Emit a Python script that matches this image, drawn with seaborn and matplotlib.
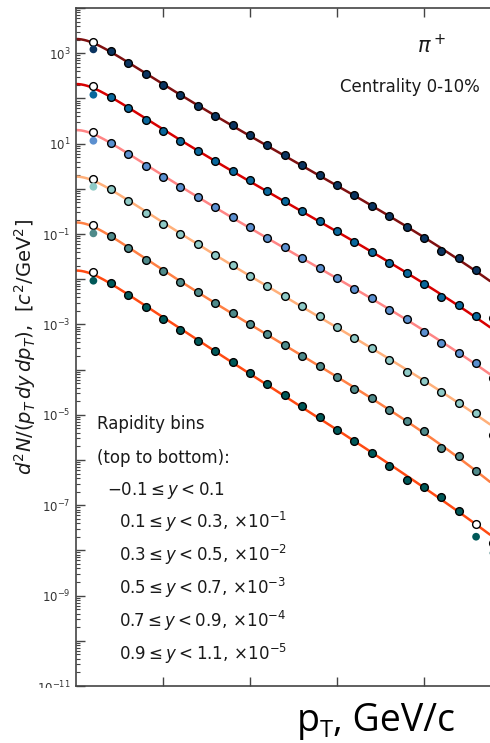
import numpy as np
import pandas as pd
import matplotlib
matplotlib.use("Agg")
import matplotlib.pyplot as plt
import seaborn as sns
from matplotlib.ticker import LogLocator, FixedLocator, NullFormatter, FuncFormatter
from matplotlib.patches import Rectangle

# ---------------- data (unscaled spectra, c^2/GeV^2) ----------------
pt = [0.2, 0.3, 0.4, 0.5, 0.6, 0.7, 0.8, 0.9, 1.0, 1.1, 1.2,
      1.3, 1.4, 1.5, 1.6, 1.7, 1.8, 1.9, 2.0, 2.1, 2.2, 2.3]

y_bin1 = [1100, 617, 341, 195, 117, 67.9, 41.4, 25.4, 15.3, 9.31, 5.60,
          3.31, 2.02, 1.21, 0.718, 0.410, 0.254, 0.143, 0.0804, 0.0428, 0.0290, 0.0160]
y_bin2 = [1091, 604, 338, 190, 116, 69.7, 41.9, 25.1, 15.4, 8.93, 5.28,
          3.23, 1.94, 1.18, 0.676, 0.406, 0.225, 0.139, 0.0771, 0.0410, 0.0269, 0.0153]
y_bin3 = [1047, 579, 319, 185, 110, 65.9, 39.0, 23.4, 14.1, 8.17, 5.08,
          2.99, 1.79, 1.05, 0.607, 0.390, 0.208, 0.130, 0.0679, 0.0382, 0.0237, 0.0142]
y_bin4 = [991, 537, 296, 169, 100, 59.2, 34.3, 20.6, 11.9, 7.18, 4.32,
          2.59, 1.53, 0.889, 0.500, 0.296, 0.163, 0.0899, 0.0568, 0.0315, 0.0185, 0.0108]
y_bin5 = [904, 483, 266, 154, 88.1, 52.1, 30.2, 17.6, 10.4, 6.22, 3.50,
          2.03, 1.20, 0.697, 0.372, 0.230, 0.130, 0.0721, 0.0428, 0.0184, 0.0121, 0.00579]
y_bin6 = [811, 441, 239, 132, 75.2, 43.6, 25.4, 14.7, 8.41, 4.88, 2.74,
          1.57, 0.908, 0.461, 0.267, 0.141, 0.0736, 0.0361, 0.0253, 0.0152, 0.00733, np.nan]

scale_exp = [0, -1, -2, -3, -4, -5]

# extra low-pT points (pT = 0.1 GeV/c): open circles and plain filled circles
pt_low = 0.1
open_low = [1795, 1879, 1778, 1648, 1581, 1422]
fill_low = [1219, 1208, 1159, 1112, 1035, 927]

# extra high-pT points: (bin index, pT, value)
open_high_bin = [1, 2, 3, 5, 5]
open_high_pt = [2.4, 2.4, 2.4, 2.3, 2.4]
open_high_val = [0.0139, 0.00652, 0.00357, 0.00378, 0.00146]
fill_high_bin = [5, 5]
fill_high_pt = [2.3, 2.4]
fill_high_val = [0.00201, 0.000875]

marker_colors = ["#0b3460", "#09679c", "#5b8fcf", "#8fcac6", "#4f8a8a", "#005858"]
line_colors = ["#7f1010", "#d80000", "#ff8585", "#ffb07a", "#ff8044", "#ff4a12"]

legend_lines = ["Rapidity bins", "(top to bottom):",
                r"$-0.1\leq y<0.1$",
                r"$0.1\leq y<0.3,\,{\times}10^{-1}$",
                r"$0.3\leq y<0.5,\,{\times}10^{-2}$",
                r"$0.5\leq y<0.7,\,{\times}10^{-3}$",
                r"$0.7\leq y<0.9,\,{\times}10^{-4}$",
                r"$0.9\leq y<1.1,\,{\times}10^{-5}$"]

series = [y_bin1, y_bin2, y_bin3, y_bin4, y_bin5, y_bin6]
M_PI = 0.1396  # pion mass, GeV/c^2 (fit variable m_T - m)

# ---------------- figure ----------------
sns.set_style("ticks")
plt.rcParams["font.family"] = ["DejaVu Sans"]
W, H = 490, 743
fig = plt.figure(figsize=(W / 100, H / 100), dpi=100)
ax = fig.add_axes([76 / W, 1 - 686 / H, (490 - 76) / W, (686 - 7.5) / H])

grid = np.linspace(0.0, 2.38, 300)


def fit_curve(x, v, xg):
    x = np.asarray(x, float)
    v = np.asarray(v, float)
    ok = np.isfinite(v)
    u = np.sqrt(x[ok] ** 2 + M_PI ** 2) - M_PI
    c = np.polyfit(u, np.log10(v[ok]), 3)
    ug = np.sqrt(xg ** 2 + M_PI ** 2) - M_PI
    return 10 ** np.polyval(c, ug)


MS = 31
for i, vals in enumerate(series):
    f = 10.0 ** scale_exp[i]
    v = np.array(vals, float) * f
    # points used for the fit line: main points + low-pT open circle (+ high open for last bin)
    fx = [pt_low] + list(pt)
    fv = [open_low[i] * f] + list(v)
    for b, p, val in zip(open_high_bin, open_high_pt, open_high_val):
        if b == i and p <= 2.3 and not np.isfinite(v[pt.index(p)]):
            fv[fx.index(p)] = val * f
    curve = fit_curve(fx, fv, grid)
    sns.lineplot(x=grid, y=curve, color=line_colors[i], lw=1.8, ax=ax,
                 zorder=2, estimator=None, sort=False)

    # open circles
    ox = [pt_low] + [p for b, p in zip(open_high_bin, open_high_pt) if b == i]
    oy = [open_low[i] * f] + [val * f for b, val in zip(open_high_bin, open_high_val) if b == i]
    sns.scatterplot(x=ox, y=oy, s=MS, facecolor="white", edgecolor="black",
                    linewidth=1.0, ax=ax, zorder=3)
    # plain filled circles
    px_ = [pt_low] + [p for b, p in zip(fill_high_bin, fill_high_pt) if b == i]
    py_ = [fill_low[i] * f] + [val * f for b, val in zip(fill_high_bin, fill_high_val) if b == i]
    sns.scatterplot(x=px_, y=py_, s=MS, color=marker_colors[i], edgecolor="none",
                    linewidth=0, ax=ax, zorder=4)
    # main data points
    df = pd.DataFrame({"pt": pt, "val": v}).dropna()
    sns.scatterplot(data=df, x="pt", y="val", s=MS, color=marker_colors[i],
                    edgecolor="black", linewidth=1.0, ax=ax, zorder=5)

ax.set_yscale("log")
ax.set_xlim(0, 2.38)
ax.set_ylim(1e-11, 1.03e4)

ax.xaxis.set_major_locator(FixedLocator([0.5, 1.0, 1.5, 2.0]))
ax.xaxis.set_major_formatter(NullFormatter())
ax.yaxis.set_major_locator(LogLocator(base=10, numticks=40))
ax.yaxis.set_minor_locator(LogLocator(base=10, subs=np.arange(2, 10), numticks=200))
ax.yaxis.set_minor_formatter(NullFormatter())


def fmt(v, pos):
    e = int(round(np.log10(v)))
    return r"$10^{%d}$" % e if e % 2 != 0 else ""


ax.yaxis.set_major_formatter(FuncFormatter(fmt))

spc = "#444444"
for s in ["left", "top", "bottom"]:
    ax.spines[s].set_color(spc)
    ax.spines[s].set_linewidth(1.2)
ax.spines["right"].set_visible(False)
ax.tick_params(axis="both", which="major", direction="in", length=6.5, width=1.0,
               color=spc, labelcolor="#333333", labelsize=8.5, pad=4,
               top=True, right=False)
ax.tick_params(axis="both", which="minor", direction="in", length=3.2, width=0.8,
               color=spc, top=False, right=False)
ax.set_xlabel("")
ax.set_ylabel(r"$d^2N/(p_T\,dy\,dp_T)$,  $[c^2/\mathrm{GeV}^2]$", fontsize=14,
              color="#1a1a1a")
ax.yaxis.set_label_coords(-0.092, 0.5)


def fx_(px):
    return px / W


def fy_(py):
    return 1 - py / H


tcol = "#1a1a1a"
fig.text(fx_(417), fy_(53), r"$\pi^+$", fontsize=15, color=tcol, va="baseline", ha="left")
fig.text(fx_(340), fy_(92), "Centrality 0-10%", fontsize=12, color=tcol,
         va="baseline", ha="left")

leg_x = [97, 97, 107, 119, 119, 119, 119, 119]
leg_y = [429, 463, 495, 528, 561, 594, 627, 660]
for t, x0, y0 in zip(legend_lines, leg_x, leg_y):
    fig.text(fx_(x0), fy_(y0), t, fontsize=12, color=tcol, va="baseline", ha="left")

# white band hiding the x tick-label area, with the axis title on top
fig.patches.append(Rectangle((0, 0), 1, fy_(687.8), transform=fig.transFigure,
                             facecolor="white", edgecolor="none", zorder=5))
bf = ["Open Sans", "DejaVu Sans"]
fig.text(fx_(297), fy_(731), "p", fontsize=27, family=bf, color="black",
         va="baseline", ha="left", zorder=6)
fig.text(fx_(320), fy_(737), "T", fontsize=17, family=bf, color="black",
         va="baseline", ha="left", zorder=6)
fig.text(fx_(333), fy_(731), ", GeV/c", fontsize=27, family=bf, color="black",
         va="baseline", ha="left", zorder=6)

fig.savefig("out.png", dpi=100)
